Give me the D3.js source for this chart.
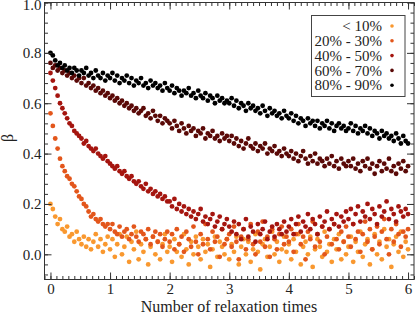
<!DOCTYPE html>
<html lang="en">
<head>
<meta charset="UTF-8">
<title>Relaxation</title>
<script src="https://d3js.org/d3.v7.min.js"></script>
<style>
  body { margin: 0; background: #fff; }
  svg { display: block; }
  text { font-family: "Liberation Serif", "DejaVu Serif", serif; fill: #222; }
  .tick line { stroke: #333; }
</style>
</head>
<body>
<svg width="415" height="315"></svg>
<script>
// sample times (number of relaxation times)
const times = [
  0.00,0.04,0.08,0.12,0.16,0.20,0.24,0.28,0.32,0.36,0.40,0.44,0.48,0.52,0.56,0.60,0.64,0.68,0.72,0.76,0.80,0.84,0.88,0.92,0.96,
  1.00,1.04,1.08,1.12,1.16,1.20,1.24,1.28,1.32,1.36,1.40,1.44,1.48,1.52,1.56,1.60,1.64,1.68,1.72,1.76,1.80,1.84,1.88,1.92,1.96,
  2.00,2.04,2.08,2.12,2.16,2.20,2.24,2.28,2.32,2.36,2.40,2.44,2.48,2.52,2.56,2.60,2.64,2.68,2.72,2.76,2.80,2.84,2.88,2.92,2.96,
  3.00,3.04,3.08,3.12,3.16,3.20,3.24,3.28,3.32,3.36,3.40,3.44,3.48,3.52,3.56,3.60,3.64,3.68,3.72,3.76,3.80,3.84,3.88,3.92,3.96,
  4.00,4.04,4.08,4.12,4.16,4.20,4.24,4.28,4.32,4.36,4.40,4.44,4.48,4.52,4.56,4.60,4.64,4.68,4.72,4.76,4.80,4.84,4.88,4.92,4.96,
  5.00,5.04,5.08,5.12,5.16,5.20,5.24,5.28,5.32,5.36,5.40,5.44,5.48,5.52,5.56,5.60,5.64,5.68,5.72,5.76,5.80,5.84,5.88,5.92,5.96,
  6.00
];

const labels = ["< 10%", "20% - 30%", "40% - 50%", "60% - 70%", "80% - 90%"];
const colors = ["#f9982f", "#e3561b", "#a5150f", "#5a0907", "#000000"];

const beta10 = [
  0.20,0.18,0.15,0.12,0.14,0.10,0.09,0.11,0.07,0.08,0.05,0.09,0.06,0.04,0.07,0.03,0.06,0.02,0.05,0.08,0.03,0.06,0.01,0.04,0.07,
  0.02,0.06,-0.01,0.04,0.08,0.00,0.03,0.07,-0.03,0.05,0.02,0.09,-0.02,0.04,0.01,0.06,-0.04,0.03,0.07,0.00,0.05,-0.02,0.04,0.08,0.01,
  0.03,-0.03,0.06,0.01,0.04,-0.01,0.08,0.02,-0.04,0.05,0.00,0.07,0.03,-0.02,0.06,0.01,0.04,-0.05,0.02,0.07,-0.01,0.05,0.03,0.00,0.06,
  -0.02,0.04,0.01,0.07,-0.04,0.03,0.06,0.00,0.05,-0.03,0.02,0.08,0.01,-0.06,0.04,0.06,-0.01,0.03,0.09,0.00,0.05,-0.03,0.02,0.07,0.01,
  0.04,-0.02,0.06,0.01,0.08,-0.04,0.03,0.05,0.00,0.07,-0.05,0.02,0.06,0.03,-0.01,0.09,0.01,0.04,-0.03,0.06,0.02,0.08,-0.02,0.05,0.00,
  0.03,0.07,-0.03,0.05,0.01,0.09,-0.01,0.04,0.06,-0.04,0.02,0.08,0.00,0.05,-0.02,0.10,0.03,0.06,-0.05,0.04,0.07,0.01,0.09,-0.01,0.05,
  0.02
];
const beta20 = [
  0.56,0.51,0.46,0.42,0.38,0.35,0.33,0.31,0.30,0.28,0.27,0.25,0.23,0.22,0.20,0.19,0.17,0.15,0.16,0.14,0.13,0.14,0.12,0.11,0.12,
  0.10,0.12,0.09,0.08,0.11,0.07,0.09,0.10,0.06,0.08,0.11,0.07,0.05,0.09,0.08,0.06,0.10,0.04,0.07,0.09,0.05,0.08,0.03,0.06,0.09,
  0.05,0.08,0.02,0.10,0.04,0.07,0.01,0.09,0.06,0.03,0.11,0.05,0.00,0.08,0.04,0.12,0.06,0.02,0.09,0.05,0.07,-0.01,0.10,0.04,0.06,
  0.08,0.03,0.11,0.05,-0.02,0.07,0.10,0.02,0.06,0.12,0.04,0.00,0.09,0.05,0.13,0.03,0.07,-0.01,0.10,0.06,0.02,0.08,0.11,0.04,0.07,
  0.05,0.10,0.01,0.08,0.12,0.04,0.07,-0.02,0.09,0.06,0.13,0.03,0.08,0.05,0.11,0.00,0.07,0.10,0.04,0.12,0.06,0.02,0.09,0.05,0.11,
  0.07,0.03,0.12,0.06,0.09,0.01,0.08,0.13,0.05,0.10,0.02,0.07,0.11,0.04,0.09,0.14,0.06,0.00,0.10,0.05,0.12,0.08,0.03,0.09,0.07,
  0.10
];
const beta40 = [
  0.72,0.69,0.66,0.63,0.60,0.58,0.56,0.54,0.52,0.51,0.49,0.48,0.47,0.46,0.44,0.45,0.43,0.42,0.41,0.42,0.40,0.39,0.38,0.39,0.37,
  0.36,0.35,0.34,0.35,0.33,0.32,0.33,0.31,0.30,0.31,0.29,0.28,0.29,0.27,0.26,0.28,0.25,0.26,0.24,0.25,0.23,0.24,0.22,0.23,0.21,
  0.21,0.19,0.22,0.18,0.20,0.17,0.19,0.16,0.18,0.15,0.17,0.14,0.16,0.18,0.13,0.15,0.12,0.14,0.16,0.11,0.13,0.15,0.10,0.12,0.14,
  0.11,0.09,0.13,0.08,0.12,0.06,0.10,0.14,0.07,0.11,0.09,0.05,0.12,0.08,0.10,0.13,0.06,0.09,0.11,0.07,0.12,0.10,0.08,0.13,0.09,
  0.11,0.14,0.08,0.12,0.15,0.09,0.13,0.11,0.16,0.10,0.14,0.12,0.08,0.15,0.11,0.13,0.17,0.10,0.14,0.12,0.16,0.11,0.15,0.13,0.17,
  0.14,0.18,0.12,0.16,0.19,0.13,0.17,0.15,0.20,0.14,0.18,0.16,0.12,0.19,0.15,0.17,0.21,0.14,0.18,0.16,0.13,0.19,0.17,0.15,0.18,
  0.16
];
const beta60 = [
  0.76,0.74,0.75,0.73,0.74,0.72,0.73,0.71,0.72,0.70,0.71,0.69,0.70,0.68,0.70,0.67,0.68,0.66,0.67,0.65,0.66,0.64,0.65,0.63,0.64,
  0.62,0.63,0.61,0.62,0.60,0.61,0.59,0.60,0.58,0.59,0.57,0.58,0.56,0.57,0.58,0.55,0.56,0.54,0.57,0.55,0.53,0.55,0.52,0.54,0.53,
  0.52,0.50,0.53,0.51,0.49,0.52,0.50,0.48,0.51,0.49,0.50,0.47,0.49,0.48,0.50,0.46,0.48,0.47,0.49,0.46,0.47,0.45,0.48,0.46,0.47,
  0.45,0.47,0.44,0.46,0.43,0.45,0.42,0.44,0.46,0.43,0.42,0.44,0.41,0.43,0.42,0.44,0.40,0.42,0.41,0.43,0.40,0.41,0.39,0.42,0.40,
  0.39,0.41,0.38,0.40,0.37,0.39,0.41,0.38,0.36,0.39,0.37,0.40,0.36,0.38,0.37,0.35,0.38,0.36,0.39,0.35,0.37,0.34,0.38,0.36,0.35,
  0.37,0.35,0.38,0.34,0.36,0.33,0.37,0.35,0.38,0.34,0.36,0.32,0.35,0.37,0.33,0.36,0.34,0.38,0.33,0.35,0.32,0.36,0.34,0.37,0.33,
  0.35
];
const beta80 = [
  0.80,0.79,0.77,0.75,0.76,0.74,0.75,0.73,0.74,0.72,0.74,0.73,0.71,0.73,0.72,0.74,0.71,0.72,0.70,0.73,0.71,0.70,0.72,0.69,0.71,
  0.70,0.72,0.69,0.71,0.68,0.70,0.69,0.71,0.68,0.70,0.67,0.69,0.68,0.70,0.67,0.68,0.66,0.69,0.67,0.68,0.66,0.67,0.65,0.68,0.66,
  0.65,0.67,0.64,0.66,0.65,0.63,0.65,0.64,0.66,0.63,0.64,0.62,0.65,0.63,0.62,0.64,0.61,0.63,0.62,0.60,0.63,0.61,0.62,0.60,0.61,
  0.60,0.62,0.59,0.61,0.58,0.60,0.59,0.57,0.60,0.58,0.59,0.57,0.58,0.56,0.59,0.57,0.55,0.58,0.56,0.57,0.55,0.56,0.54,0.57,0.55,
  0.54,0.56,0.53,0.55,0.52,0.54,0.53,0.51,0.54,0.52,0.53,0.51,0.53,0.50,0.52,0.51,0.53,0.50,0.52,0.49,0.51,0.52,0.50,0.51,0.49,
  0.50,0.52,0.49,0.51,0.48,0.50,0.49,0.51,0.48,0.50,0.47,0.49,0.48,0.46,0.49,0.47,0.48,0.46,0.47,0.45,0.48,0.46,0.44,0.47,0.45,
  0.44
];
const series = [beta10, beta20, beta40, beta60, beta80];

const xMajor = [0, 1, 2, 3, 4, 5, 6];
const yMajor = [0.0, 0.2, 0.4, 0.6, 0.8, 1.0];

const svg = d3.select("svg");
const mLeft = 44.5, mRight = 414, mTop = 2.5, mBottom = 279.5;

const x = d3.scaleLinear().domain([-0.1, 6.1]).range([mLeft, mRight]);
const y = d3.scaleLinear().domain([-0.1, 1.0]).range([mBottom, mTop]);

const xMinor = d3.range(-0.1, 6.101, 0.1).map(v => +v.toFixed(2));
const yMinor = d3.range(-0.08, 1.001, 0.04).map(v => +v.toFixed(2));

// points
series.forEach((vals, k) => {
  svg.append("g")
    .selectAll("circle")
    .data(vals.map((v, i) => [times[i], v]))
    .join("circle")
    .attr("cx", d => x(d[0]))
    .attr("cy", d => y(d[1]))
    .attr("r", 2.4)
    .attr("fill", colors[k]);
});

// inward ticks on all four sides
function ticks(axis, vals, size, tr, fmt) {
  const g = svg.append("g").attr("transform", tr)
    .call(axis.tickValues(vals).tickSize(size).tickFormat(fmt || ""));
  g.select(".domain").remove();
  return g;
}
ticks(d3.axisBottom(x), xMinor, -3.5, `translate(0,${mBottom})`);
ticks(d3.axisTop(x), xMinor, -3.5, `translate(0,${mTop})`);
ticks(d3.axisLeft(y), yMinor, -3.5, `translate(${mLeft},0)`);
ticks(d3.axisRight(y), yMinor, -3.5, `translate(${mRight},0)`);

const gx = ticks(d3.axisBottom(x), xMajor, -7, `translate(0,${mBottom})`, d3.format("d"));
gx.selectAll("text").attr("y", 4).attr("dy", "0.71em").style("font-size", "15px")
  .style("font-family", '"Liberation Serif", serif').attr("fill", "#222");
ticks(d3.axisTop(x), xMajor, -7, `translate(0,${mTop})`);
const gy = ticks(d3.axisLeft(y), yMajor, -7, `translate(${mLeft},0)`, d3.format(".1f"));
gy.selectAll("text").attr("x", -3).style("font-size", "15px")
  .style("font-family", '"Liberation Serif", serif').attr("fill", "#222")
  .attr("y", d => d === 1 ? 2.5 : 0);
ticks(d3.axisRight(y), yMajor, -7, `translate(${mRight},0)`);

svg.append("rect")
  .attr("x", mLeft).attr("y", mTop)
  .attr("width", mRight - mLeft).attr("height", mBottom - mTop)
  .attr("fill", "none").attr("stroke", "#333").attr("stroke-width", 1);

// axis titles
svg.append("text")
  .attr("x", 229).attr("y", 312)
  .attr("text-anchor", "middle").style("font-size", "16px")
  .text("Number of relaxation times");
svg.append("text")
  .attr("transform", "translate(13,138) rotate(-90)")
  .attr("text-anchor", "middle").style("font-size", "16px")
  .text("β");

// legend
const lg = svg.append("g");
lg.append("rect")
  .attr("x", 311.5).attr("y", 15.5).attr("width", 93.5).attr("height", 81)
  .attr("fill", "#fff").attr("stroke", "#444").attr("stroke-width", 1);
labels.forEach((t, k) => {
  const yy = 26 + k * 14.8;
  lg.append("text").attr("x", 382).attr("y", yy).attr("dy", "0.35em")
    .attr("text-anchor", "end").style("font-size", "15px").text(t);
  lg.append("circle").attr("cx", 392).attr("cy", yy).attr("r", 1.8).attr("fill", colors[k]);
});
</script>
</body>
</html>
